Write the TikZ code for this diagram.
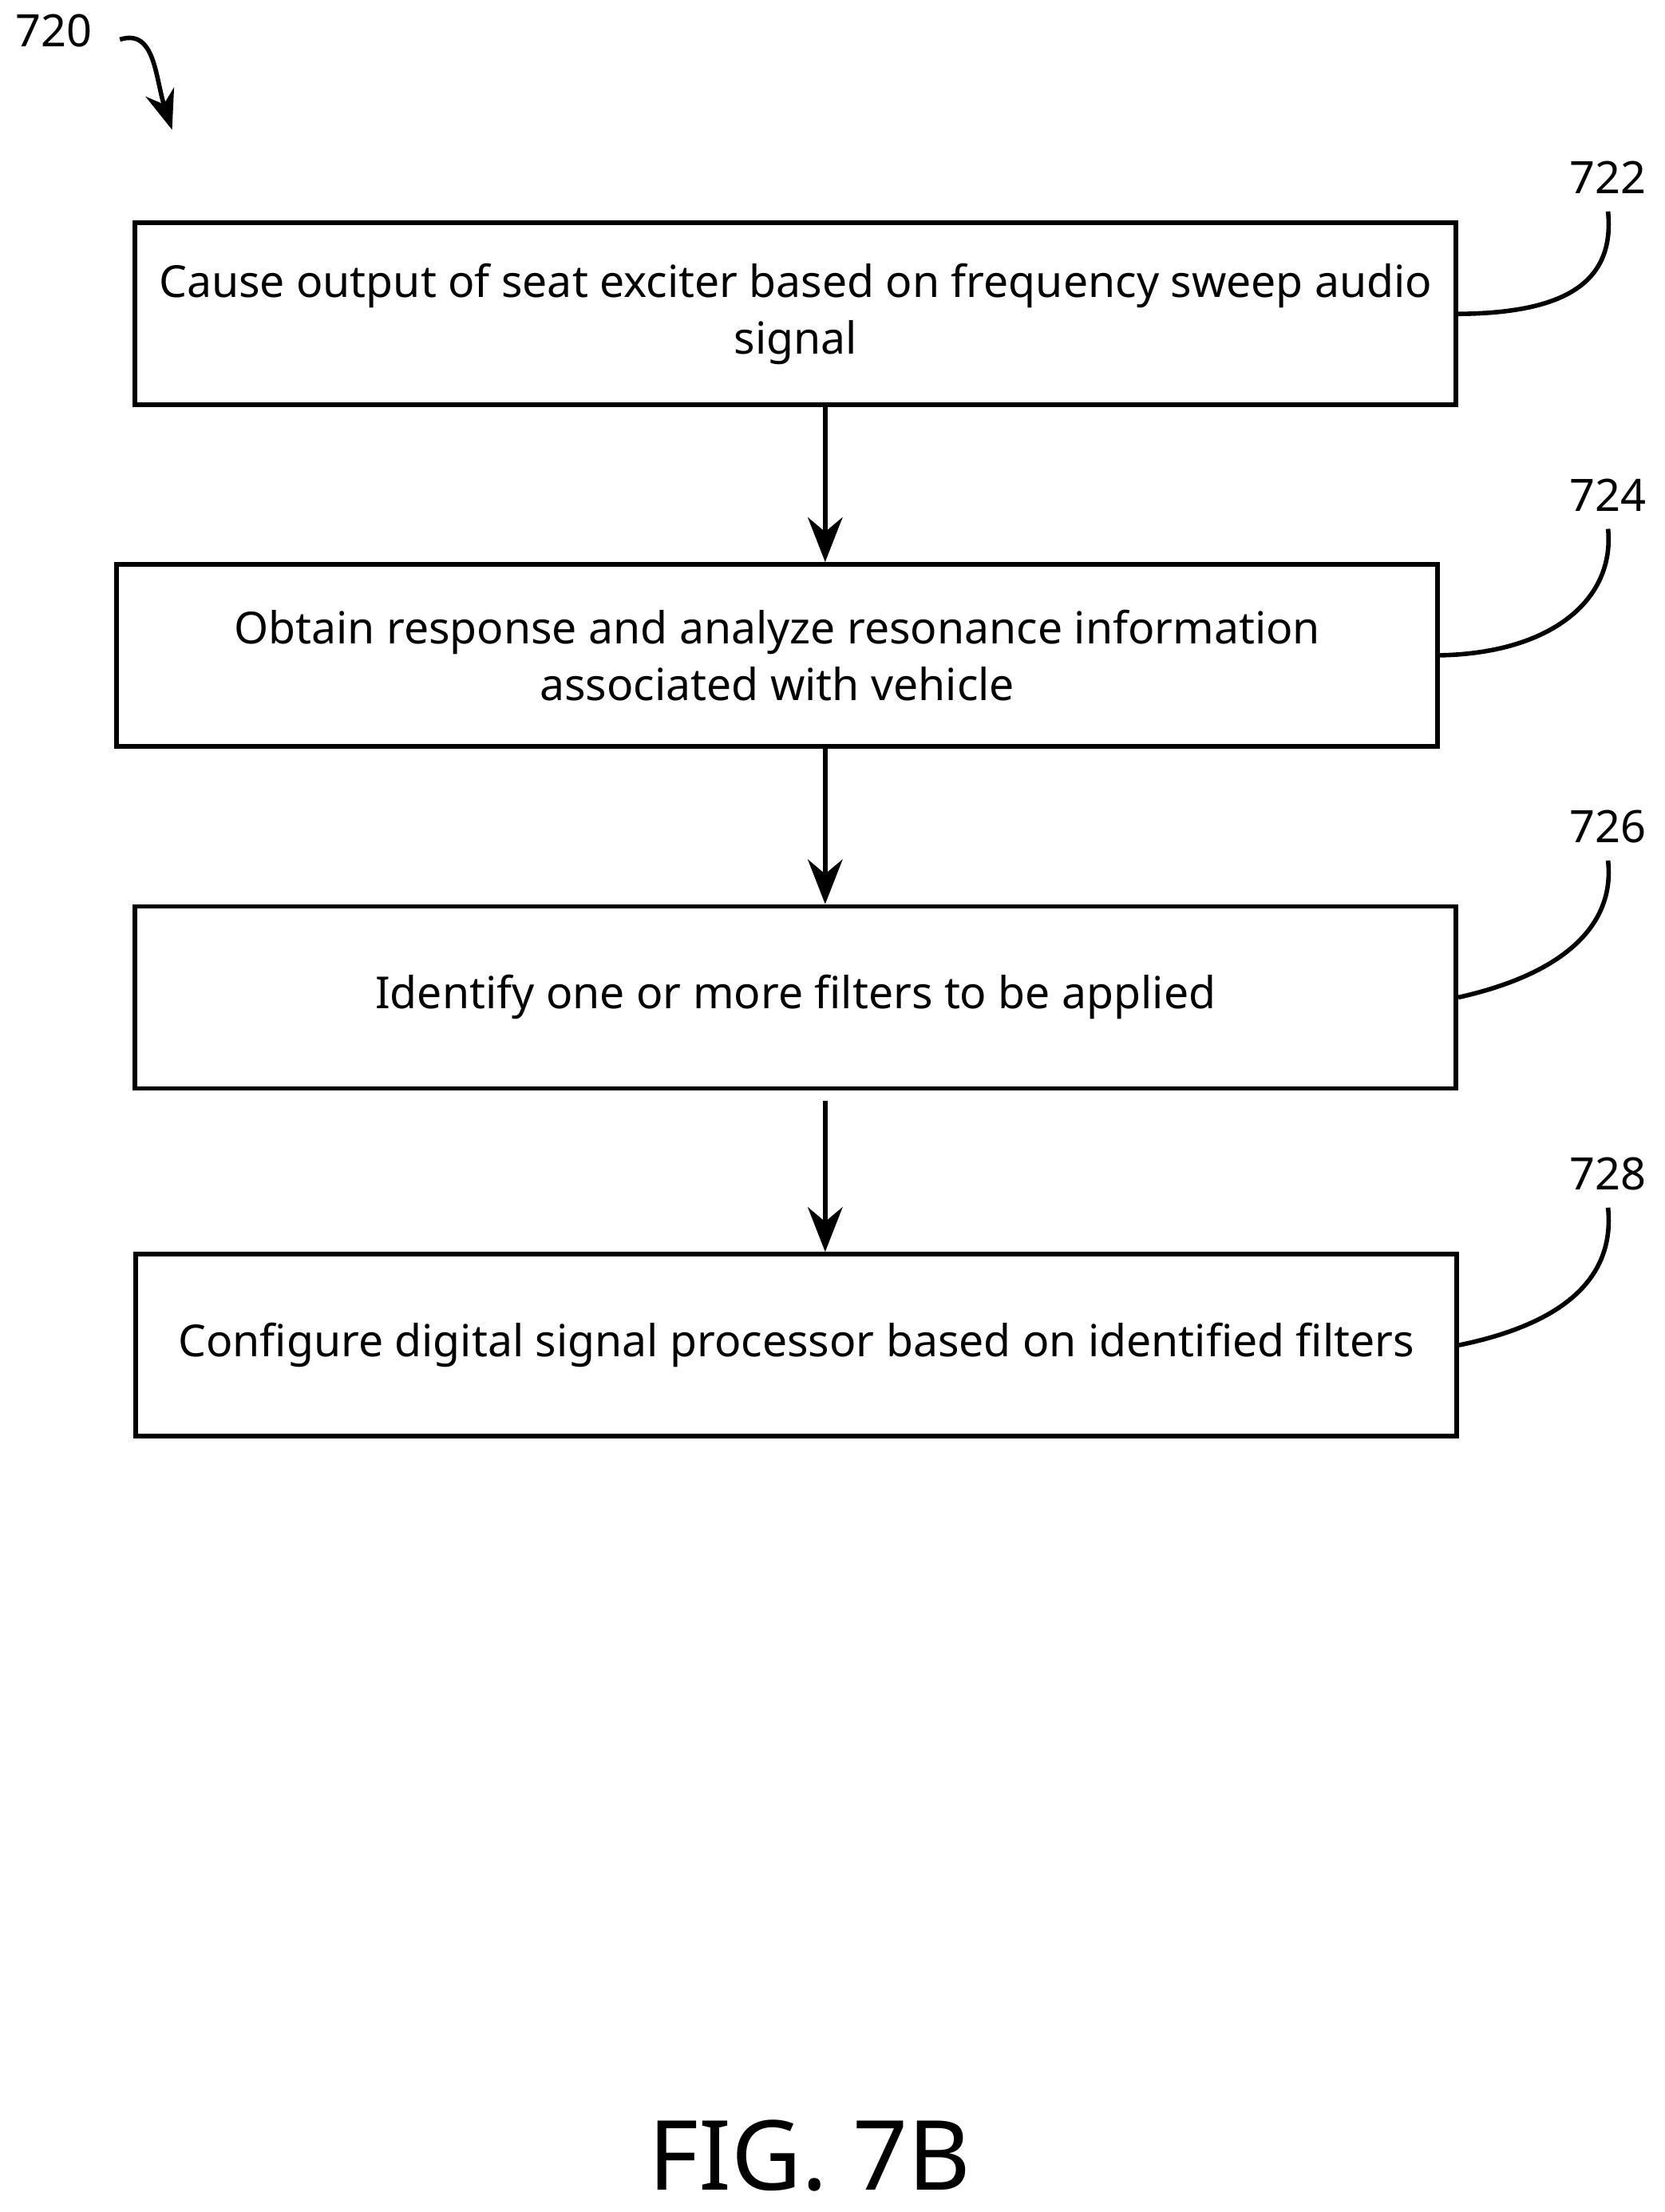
\documentclass[tikz,border=0pt]{standalone}
\usepackage{fontspec}
\setmainfont{Noto Sans}
\usetikzlibrary{arrows.meta}
\begin{document}
\begin{tikzpicture}[x=0.01cm,y=-0.01cm,
  stepbox/.style={draw, line width=0.9pt, minimum width=9.36cm, minimum height=1.29cm, align=center, font=\fontsize{8.9}{11.4}\selectfont, inner sep=0pt},
  ref/.style={font=\fontsize{9}{11}\selectfont},
  flow/.style={line width=0.9pt, -{Stealth[length=9pt,width=7pt]}},
  lead/.style={line width=0.9pt}]
\useasboundingbox (0,0) rectangle (1180,1568);
\node[stepbox] (b1) at (564,222.5) {Cause output of seat exciter based on frequency sweep audio\\signal};
\node[stepbox] (b2) at (551,464.5) {Obtain response and analyze resonance information\\associated with vehicle};
\node[stepbox] (b3) at (564,707) {Identify one or more filters to be applied};
\node[stepbox] (b4) at (564.5,953.5) {Configure digital signal processor based on identified filters};
\coordinate (ax) at (585,0);
\draw[flow] (b1.south -| ax) -- (b2.north -| ax);
\draw[flow] (b2.south -| ax) -- (b3.north -| ax);
\draw[flow] ([yshift=-0.07cm]b3.south -| ax) -- (b4.north -| ax);
% reference numerals
\node[ref] (n720) at (38,22) {720};
\node[ref] (n722) at (1140,126) {722};
\node[ref] (n724) at (1140,351) {724};
\node[ref] (n726) at (1140,586) {726};
\node[ref] (n728) at (1140,832) {728};
\coordinate (t720) at (122,92);
\draw[lead, -{Stealth[length=8pt,width=6pt]}] (85,28) .. controls (110,20) and (110,55) .. (t720);
\draw[lead] (b1.east) .. controls (1110,222) and (1145,200) .. (n722.south);
\draw[lead] (b2.east) .. controls (1100,463) and (1145,425) .. (n724.south);
\draw[lead] (b3.east) .. controls (1110,690) and (1145,655) .. (n726.south);
\draw[lead] (b4.east) .. controls (1110,938) and (1145,905) .. (n728.south);
\node[font=\fontsize{19.5}{23}\selectfont] (fig) at (574,1528) {FIG. 7B};
\end{tikzpicture}
\end{document}
